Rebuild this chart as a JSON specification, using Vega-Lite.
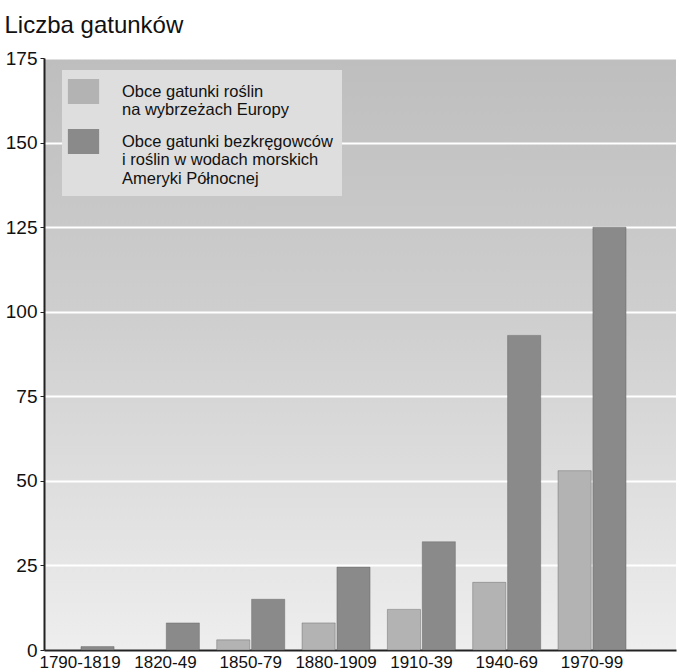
{
  "$schema": "https://vega.github.io/schema/vega-lite/v6.json",
  "autosize": {"type": "none"},
  "padding": {"left": 44, "top": 58, "right": 1, "bottom": 20},
  "width": 632,
  "height": 592,
  "background": "white",
  "view": {
    "stroke": null,
    "fill": {"gradient": "linear", "x1": 0, "y1": 0, "x2": 0, "y2": 1,
      "stops": [{"offset": 0, "color": "#bebebe"}, {"offset": 0.45, "color": "#cfcfcf"}, {"offset": 1, "color": "#eeeeee"}]}
  },
  "config": {
    "font": "Liberation Sans",
    "axis": {"labelFont": "Liberation Sans", "titleFont": "Liberation Sans", "labelColor": "#111", "titleColor": "#111"},
    "legend": {"labelFont": "Liberation Sans"}
  },
  "data": {
    "values": [
      {"okres": "1790-1819", "seria": "Obce gatunki bezkręgowców i roślin w wodach morskich Ameryki Północnej", "liczba": 1},
      {"okres": "1820-49", "seria": "Obce gatunki bezkręgowców i roślin w wodach morskich Ameryki Północnej", "liczba": 8},
      {"okres": "1850-79", "seria": "Obce gatunki roślin na wybrzeżach Europy", "liczba": 3},
      {"okres": "1850-79", "seria": "Obce gatunki bezkręgowców i roślin w wodach morskich Ameryki Północnej", "liczba": 15},
      {"okres": "1880-1909", "seria": "Obce gatunki roślin na wybrzeżach Europy", "liczba": 8},
      {"okres": "1880-1909", "seria": "Obce gatunki bezkręgowców i roślin w wodach morskich Ameryki Północnej", "liczba": 24.5},
      {"okres": "1910-39", "seria": "Obce gatunki roślin na wybrzeżach Europy", "liczba": 12},
      {"okres": "1910-39", "seria": "Obce gatunki bezkręgowców i roślin w wodach morskich Ameryki Północnej", "liczba": 32},
      {"okres": "1940-69", "seria": "Obce gatunki roślin na wybrzeżach Europy", "liczba": 20},
      {"okres": "1940-69", "seria": "Obce gatunki bezkręgowców i roślin w wodach morskich Ameryki Północnej", "liczba": 93},
      {"okres": "1970-99", "seria": "Obce gatunki roślin na wybrzeżach Europy", "liczba": 53},
      {"okres": "1970-99", "seria": "Obce gatunki bezkręgowców i roślin w wodach morskich Ameryki Północnej", "liczba": 125}
    ]
  },
  "mark": {"type": "bar", "stroke": "#5a5a5a", "strokeWidth": 0.4},
  "encoding": {
    "x": {
      "field": "okres", "type": "nominal", "sort": null,
      "scale": {"paddingInner": 0.203, "paddingOuter": 0.305, "align": 0.04},
      "axis": {
        "title": null, "labelAngle": 0, "labelFontSize": 17, "ticks": false,
        "domainColor": "#222", "domainWidth": 2, "labelPadding": 4
      }
    },
    "xOffset": {
      "field": "seria", "type": "nominal",
      "sort": ["Obce gatunki roślin na wybrzeżach Europy", "Obce gatunki bezkręgowców i roślin w wodach morskich Ameryki Północnej"],
      "scale": {"paddingInner": 0.05}
    },
    "y": {
      "field": "liczba", "type": "quantitative",
      "scale": {"domain": [0, 175], "nice": false},
      "axis": {
        "values": [0, 25, 50, 75, 100, 125, 150, 175],
        "title": "Liczba gatunków", "titleAngle": 0, "titleAlign": "left", "titleBaseline": "alphabetic",
        "titleX": -40, "titleY": -26, "titleFontSize": 24, "titleFontWeight": "normal",
        "labelFontSize": 19, "labelPadding": 3,
        "tickColor": "#222", "tickSize": 4, "domainColor": "#222", "domainWidth": 2,
        "gridColor": "white", "gridWidth": 2, "gridOpacity": 1
      }
    },
    "color": {
      "field": "seria", "type": "nominal",
      "sort": ["Obce gatunki roślin na wybrzeżach Europy", "Obce gatunki bezkręgowców i roślin w wodach morskich Ameryki Północnej"],
      "scale": {"range": ["#b3b3b3", "#8a8a8a"]},
      "legend": {
        "title": null, "orient": "none", "legendX": 18, "legendY": 12,
        "fillColor": "#dedede", "padding": 9,
        "symbolType": "M-1.25,-1H1.25V1H-1.25Z", "symbolSize": 625, "symbolStrokeWidth": 0,
        "labelFontSize": 16.5, "labelColor": "#111", "labelLimit": 300, "labelOffset": 26,
        "rowPadding": 10,
        "labelExpr": "datum.label == 'Obce gatunki roślin na wybrzeżach Europy' ? ['Obce gatunki roślin', 'na wybrzeżach Europy'] : ['Obce gatunki bezkręgowców', 'i roślin w wodach morskich', 'Ameryki Północnej']"
      }
    }
  }
}
